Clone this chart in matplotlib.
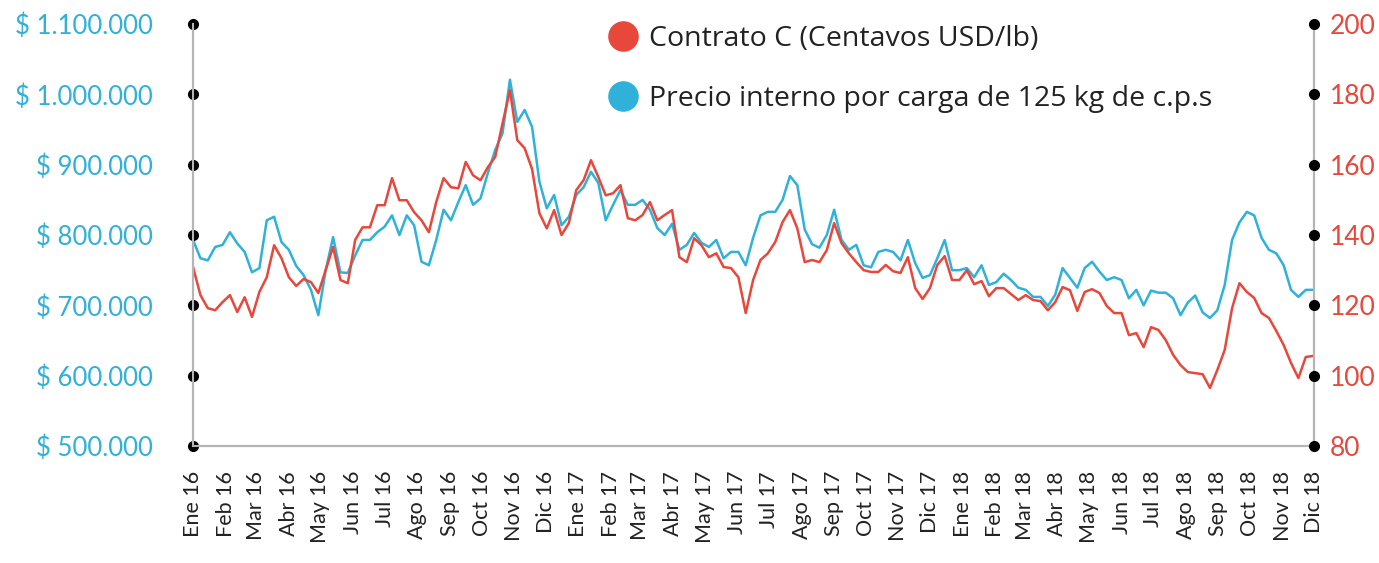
import numpy as np
import pandas as pd
import matplotlib
matplotlib.use("Agg")
import matplotlib.pyplot as plt
from matplotlib.lines import Line2D

# weekly samples, Jan 2016 - Nov 2018
contrato_c = [  # centavos USD/lb (right axis)
    130.9, 122.9, 119.2, 118.6, 120.9, 122.9, 118.1, 122.3, 116.7, 123.8,
    128.0, 137.1, 133.4, 128.0, 125.5, 127.5, 126.6, 123.5, 130.0, 136.6,
    127.2, 126.3, 138.6, 142.2, 142.2, 148.5, 148.5, 156.2, 149.9, 149.9,
    146.5, 144.2, 140.8, 149.4, 156.2, 153.6, 153.3, 160.8, 157.0, 155.6,
    159.3, 162.2, 171.8, 181.2, 167.0, 164.7, 158.8, 146.2, 141.9, 147.1,
    140.0, 143.4, 152.8, 155.6, 161.3, 156.5, 151.3, 151.9, 154.2, 144.8,
    144.2, 145.7, 149.4, 144.2, 145.7, 147.1, 133.7, 132.3, 139.1, 137.1,
    133.7, 134.8, 130.9, 130.6, 128.0, 117.8, 127.2, 132.9, 134.8, 138.0,
    143.7, 147.1, 141.9, 132.3, 132.9, 132.3, 135.7, 143.4, 137.7, 134.8,
    132.3, 130.0, 129.5, 129.5, 131.5, 129.7, 129.2, 133.7, 124.9, 121.8,
    124.9, 131.5, 134.0, 127.2, 127.2, 130.0, 126.0, 126.9, 122.6, 124.9,
    124.9, 123.2, 121.5, 122.9, 121.5, 121.2, 118.6, 120.9, 125.2, 124.3,
    118.4, 123.8, 124.6, 123.5, 119.8, 117.8, 117.8, 111.5, 112.1, 108.1,
    113.8, 113.0, 110.1, 105.9, 103.0, 101.0, 100.7, 100.4, 96.5, 101.6,
    107.3, 119.2, 126.3, 123.8, 122.1, 117.8, 116.4, 112.7, 108.7, 103.6,
    99.3, 105.3, 105.6,
]
precio_interno = [  # miles de pesos por carga (left axis)
    793, 767, 764, 783, 786, 804, 788, 776, 747, 753,
    821, 826, 790, 779, 756, 743, 722, 686, 750, 797,
    747, 746, 771, 793, 793, 804, 812, 828, 800, 828,
    814, 762, 757, 793, 836, 821, 847, 871, 843, 852,
    888, 921, 945, 1021, 961, 978, 954, 876, 838, 857,
    814, 826, 857, 868, 890, 874, 821, 843, 864, 843,
    843, 850, 836, 810, 800, 816, 779, 786, 803, 789,
    783, 793, 767, 776, 776, 757, 796, 828, 833, 833,
    850, 884, 871, 808, 787, 782, 800, 836, 793, 779,
    786, 757, 754, 776, 779, 776, 764, 793, 760, 739,
    743, 767, 793, 750, 750, 753, 740, 757, 729, 733,
    745, 736, 725, 722, 712, 712, 699, 715, 753, 739,
    725, 753, 762, 748, 736, 740, 736, 710, 722, 700,
    721, 718, 718, 710, 686, 704, 714, 690, 682, 693,
    729, 793, 818, 833, 828, 796, 779, 774, 757, 722,
    712, 722, 722,
]
meses = ["Ene", "Feb", "Mar", "Abr", "May", "Jun",
         "Jul", "Ago", "Sep", "Oct", "Nov", "Dic"]
anios = ["16", "17", "18"]
left_ticks = [500000, 600000, 700000, 800000, 900000, 1000000, 1100000]
right_ticks = [80, 100, 120, 140, 160, 180, 200]

RED = "#e8473b"
BLUE = "#2fb1da"
GRAY = "#b5b5b5"

fechas = pd.date_range("2016-01-01", periods=len(contrato_c), freq="7D")
month_starts = pd.date_range("2016-01-01", "2018-12-01", freq="MS")
month_labels = [f"{m} {a}" for a in anios for m in meses]

plt.rcParams["font.family"] = ["Lato", "DejaVu Sans"]

fig = plt.figure(figsize=(13.79, 5.63), dpi=100)
ax = fig.add_axes([0.140, 0.208, 0.813, 0.749])
ax2 = ax.twinx()

ax.plot(fechas, np.array(precio_interno) * 1000, color=BLUE, lw=1.8)
ax2.plot(fechas, contrato_c, color=RED, lw=1.8)

ax.set_ylim(left_ticks[0], left_ticks[-1])
ax2.set_ylim(right_ticks[0], right_ticks[-1])
ax.set_xlim(month_starts[0], month_starts[-1])

ax.set_yticks(left_ticks)
ax.set_yticklabels(["$ " + f"{v:,.0f}".replace(",", ".") for v in left_ticks])
ax2.set_yticks(right_ticks)
ax2.set_yticklabels([str(v) for v in right_ticks])
ax.set_xticks(month_starts)
ax.set_xticklabels(month_labels[:len(month_starts)], rotation=90)

ax.tick_params(axis="y", length=0, pad=29, labelsize=18.5, labelcolor=BLUE)
ax2.tick_params(axis="y", length=0, pad=11, labelsize=19, labelcolor=RED)
ax.tick_params(axis="x", length=0, pad=18, labelsize=15.5, labelcolor="#222222")

for a in (ax, ax2):
    a.spines["top"].set_visible(False)
    for s in ("left", "right", "bottom"):
        a.spines[s].set_color(GRAY)
        a.spines[s].set_linewidth(1.5)

# black dots on both vertical axes
ax.plot(np.zeros(len(left_ticks)), left_ticks, "o", color="black", ms=7,
        transform=ax.get_yaxis_transform(), clip_on=False, zorder=5)
ax2.plot(np.ones(len(right_ticks)), right_ticks, "o", color="black", ms=7,
         transform=ax2.get_yaxis_transform(), clip_on=False, zorder=5)

handles = [
    Line2D([], [], ls="none", marker="o", ms=21, color=RED),
    Line2D([], [], ls="none", marker="o", ms=21, color=BLUE),
]
leg = ax2.legend(handles, ["Contrato C (Centavos USD/lb)",
                           "Precio interno por carga de 125 kg de c.p.s"],
                 loc="upper left", bbox_to_anchor=(0.347, 1.06), frameon=False,
                 prop={"family": "Open Sans", "size": 20.5}, labelspacing=1.15,
                 handletextpad=0.35, handlelength=1.1)
for t in leg.get_texts():
    t.set_color("#222222")

fig.savefig("out.png", dpi=100)
